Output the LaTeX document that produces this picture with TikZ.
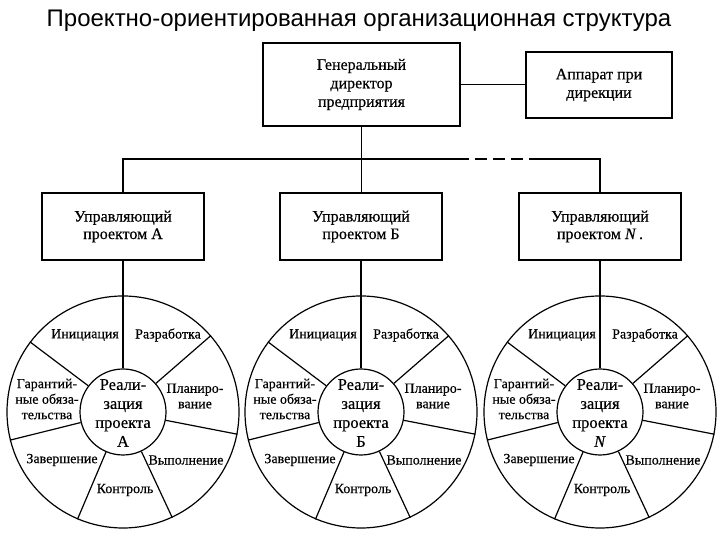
\documentclass[tikz,border=0pt]{standalone}
\usepackage{fontspec}
\setmainfont{Liberation Serif}[FakeBold=0.4]
\newfontfamily\titlefont{Liberation Sans}
\begin{document}
\begin{tikzpicture}[x=1pt,y=1pt,
  box/.style={draw, line width=1.2pt, align=center, font=\fontsize{16}{18.5}\selectfont, inner sep=0pt},
  ln/.style={line width=1.2pt},
  lab/.style={font=\fontsize{14}{15.5}\selectfont, align=center, inner sep=0pt},
  ctr/.style={font=\fontsize{16.5}{19}\selectfont, align=center, inner sep=0pt},
  outercirc/.style={circle, draw, line width=1.2pt, minimum size=232pt, inner sep=0pt},
  innercirc/.style={circle, draw, line width=1.2pt, minimum size=86pt, inner sep=0pt}]
\useasboundingbox (0,0) rectangle (720,540);
\node[font=\titlefont\fontsize{24}{27}\selectfont, inner sep=0pt] (title) at (359,519) {Проектно-ориентированная организационная структура};
\node[box, minimum width=197pt, minimum height=83pt] (gd) at (361.5,455.5) {Генеральный\\директор\\предприятия};
\node[box, minimum width=146pt, minimum height=66pt] (ap) at (599,455) {Аппарат при\\дирекции};
\node[box, minimum width=162pt, minimum height=67pt, font=\fontsize{16}{17.5}\selectfont] (pA) at (123,313.5) {Управляющий\\проектом А};
\node[box, minimum width=162pt, minimum height=67pt, font=\fontsize{16}{17.5}\selectfont] (pB) at (361,313.5) {Управляющий\\проектом Б};
\node[box, minimum width=162pt, minimum height=67pt, font=\fontsize{16}{17.5}\selectfont] (pN) at (600,313.5) {Управляющий\\проектом \textit{N}\,.};
\coordinate (d1) at (457,381);
\coordinate (d2) at (530,381);
\draw[ln] (gd.east) -- (gd.east -| ap.west);
\draw[ln] (gd.south) -- (gd.south |- pB.north);
\draw[ln] (pA.north) |- (d1);
\draw[ln, dash pattern=on 12pt off 6pt] (d1) -- (d2);
\draw[ln] (d2) -| (pN.north);
\foreach \n/\x/\L in {A/123/А, B/361/Б, N/600/{\textit{N}}} {
  \node[outercirc] (o\n) at (\x,128) {};
  \node[innercirc] (i\n) at (\x,128) {};
  \node[ctr] (t\n) at (\x,127) {Реали-\\зация\\проекта\\\L};
  \draw[ln] (p\n.south) -- (o\n.north);
  \foreach \a in {90,41,-11,-65,-113,-166,143} {
    \draw[ln] (i\n.\a) -- (o\n.\a);
  }
  \node[lab] (l1\n) at ([shift={(-38,77)}]o\n.center) {Инициация};
  \node[lab] (l2\n) at ([shift={(45,77)}]o\n.center) {Разработка};
  \node[lab] (l3\n) at ([shift={(72,16)}]o\n.center) {Планиро-\\вание};
  \node[lab] (l4\n) at ([shift={(63,-48)}]o\n.center) {Выполнение};
  \node[lab] (l5\n) at ([shift={(2,-78)}]o\n.center) {Контроль};
  \node[lab] (l6\n) at ([shift={(-61,-48)}]o\n.center) {Завершение};
  \node[lab] (l7\n) at ([shift={(-76,13)}]o\n.center) {Гарантий-\\ные обяза-\\тельства};
}
\end{tikzpicture}
\end{document}
